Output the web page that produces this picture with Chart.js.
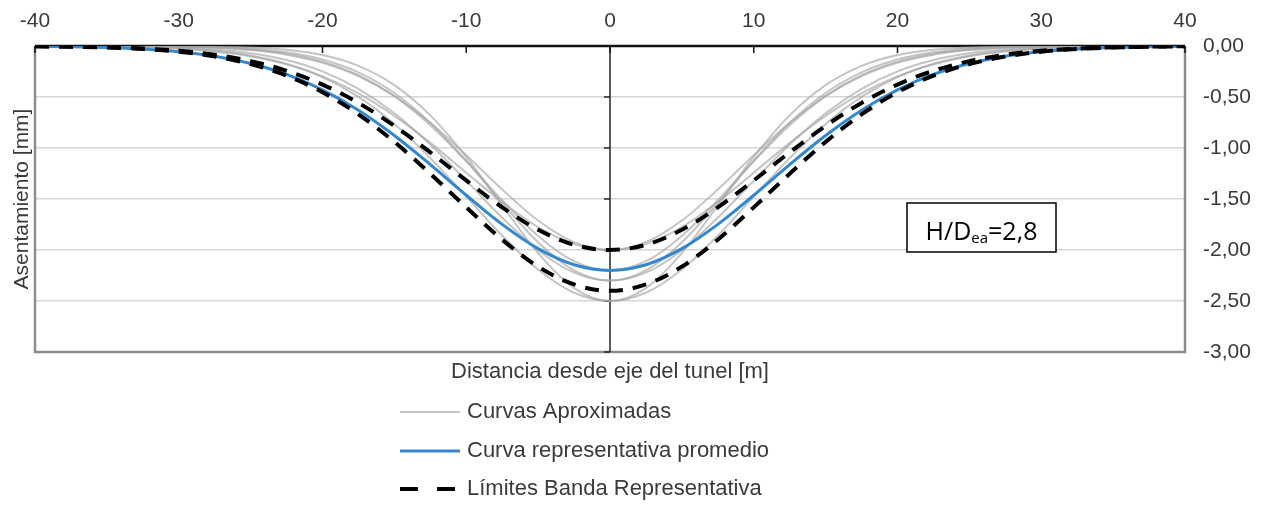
<!DOCTYPE html>
<html lang="es">
<head>
<meta charset="UTF-8">
<title>Asentamiento vs distancia al eje del túnel</title>
<script src="https://cdn.jsdelivr.net/npm/chart.js"></script>
<style>
  html, body { margin:0; padding:0; background:#fff; }
  #asent { display:block; }
</style>
</head>
<body>
<canvas id="asent" width="1269" height="506"></canvas>
<script>
// distancia al eje [m]
const distancias = [-40,-37.5,-35,-32.5,-30,-27.5,-25,-22.5,-20,-17.5,-15,-12.5,-10,-7.5,-5,-2.5,0,2.5,5,7.5,10,12.5,15,17.5,20,22.5,25,27.5,30,32.5,35,37.5,40];

// curvas aproximadas (asentamiento en mm)
const curvaAprox1 = [0,0,0,0,-0.001,-0.005,-0.014,-0.037,-0.089,-0.195,-0.384,-0.680,-1.087,-1.565,-2.030,-2.373,-2.500,-2.373,-2.030,-1.565,-1.087,-0.680,-0.384,-0.195,-0.089,-0.037,-0.014,-0.005,-0.001,0,0,0,0];
const curvaAprox2 = [0,-0.002,-0.004,-0.010,-0.022,-0.047,-0.093,-0.174,-0.305,-0.499,-0.765,-1.099,-1.477,-1.859,-2.192,-2.419,-2.500,-2.419,-2.192,-1.859,-1.477,-1.099,-0.765,-0.499,-0.305,-0.174,-0.093,-0.047,-0.022,-0.010,-0.004,-0.002,0];
const curvaAprox3 = [0,0,0,-0.001,-0.004,-0.010,-0.026,-0.062,-0.132,-0.258,-0.461,-0.753,-1.126,-1.539,-1.924,-2.199,-2.300,-2.199,-1.924,-1.539,-1.126,-0.753,-0.461,-0.258,-0.132,-0.062,-0.026,-0.010,-0.004,-0.001,0,0,0];
const curvaAprox4 = [0,-0.001,-0.003,-0.007,-0.015,-0.034,-0.071,-0.138,-0.249,-0.420,-0.659,-0.966,-1.320,-1.683,-2.002,-2.222,-2.300,-2.222,-2.002,-1.683,-1.320,-0.966,-0.659,-0.420,-0.249,-0.138,-0.071,-0.034,-0.015,-0.007,-0.003,-0.001,0];
const curvaAprox5 = [0,0,-0.001,-0.003,-0.007,-0.018,-0.040,-0.085,-0.164,-0.295,-0.490,-0.753,-1.071,-1.407,-1.711,-1.923,-2.000,-1.923,-1.711,-1.407,-1.071,-0.753,-0.490,-0.295,-0.164,-0.085,-0.040,-0.018,-0.007,-0.003,-0.001,0,0];
const curvaAprox6 = [-0.001,-0.002,-0.006,-0.013,-0.028,-0.055,-0.102,-0.180,-0.298,-0.465,-0.685,-0.950,-1.242,-1.530,-1.776,-1.941,-2.000,-1.941,-1.776,-1.530,-1.242,-0.950,-0.685,-0.465,-0.298,-0.180,-0.102,-0.055,-0.028,-0.013,-0.006,-0.002,-0.001];
const curvaAprox7 = [0,0,-0.001,-0.002,-0.005,-0.014,-0.034,-0.075,-0.153,-0.286,-0.491,-0.776,-1.129,-1.512,-1.862,-2.110,-2.200,-2.110,-1.862,-1.512,-1.129,-0.776,-0.491,-0.286,-0.153,-0.075,-0.034,-0.014,-0.005,-0.002,-0.001,0,0];

// curva promedio y límites de la banda
const curvaPromedio = [-0.003,-0.007,-0.015,-0.030,-0.056,-0.100,-0.172,-0.279,-0.430,-0.630,-0.878,-1.163,-1.463,-1.749,-1.987,-2.145,-2.200,-2.145,-1.987,-1.749,-1.463,-1.163,-0.878,-0.630,-0.430,-0.279,-0.172,-0.100,-0.056,-0.030,-0.015,-0.007,-0.003];
const limiteSuperior = [-0.003,-0.006,-0.012,-0.025,-0.047,-0.086,-0.148,-0.243,-0.378,-0.558,-0.783,-1.043,-1.318,-1.582,-1.802,-1.949,-2.000,-1.949,-1.802,-1.582,-1.318,-1.043,-0.783,-0.558,-0.378,-0.243,-0.148,-0.086,-0.047,-0.025,-0.012,-0.006,-0.003];
const limiteInferior = [-0.003,-0.007,-0.015,-0.029,-0.056,-0.103,-0.178,-0.291,-0.453,-0.670,-0.940,-1.252,-1.582,-1.899,-2.163,-2.338,-2.400,-2.338,-2.163,-1.899,-1.582,-1.252,-0.940,-0.670,-0.453,-0.291,-0.178,-0.103,-0.056,-0.029,-0.015,-0.007,-0.003];

const ticksX = [-40,-30,-20,-10,0,10,20,30,40];
const ticksY = [0,-0.5,-1,-1.5,-2,-2.5,-3];

const curvasAprox = [curvaAprox1, curvaAprox2, curvaAprox3, curvaAprox4, curvaAprox5, curvaAprox6, curvaAprox7];

const FUENTE = '"Liberation Sans", Arial, sans-serif';
const GRIS = 'rgba(165,165,165,0.65)';
const AZUL = '#3387cf';

const pts = arr => distancias.map((x, i) => ({ x, y: arr[i] }));

const datasets = [];
curvasAprox.forEach((c, i) => datasets.push({
  label: 'Curvas Aproximadas', data: pts(c), borderColor: GRIS, borderWidth: 2,
  order: 3, enLeyenda: i === 0
}));
datasets.push({ label: 'Curva representativa promedio', data: pts(curvaPromedio), borderColor: AZUL, borderWidth: 3, order: 2, enLeyenda: true });
datasets.push({ label: 'Límites Banda Representativa', data: pts(limiteSuperior), borderColor: '#000', borderWidth: 4, borderDash: [14, 10], order: 1, enLeyenda: true });
datasets.push({ label: 'Límites Banda Representativa', data: pts(limiteInferior), borderColor: '#000', borderWidth: 4, borderDash: [14, 10], order: 1, enLeyenda: false });

// marco, ejes con cruce en 0, títulos, leyenda y recuadro H/Dea
const extras = {
  id: 'extras',
  beforeDatasetsDraw(chart) {
    const { ctx, chartArea: a, scales: { x, y } } = chart;
    ctx.save();
    // marco gris del área de trazado
    ctx.strokeStyle = '#8c8c8c'; ctx.lineWidth = 2.5;
    ctx.beginPath();
    ctx.moveTo(a.left, a.top); ctx.lineTo(a.left, a.bottom); ctx.lineTo(a.right, a.bottom); ctx.lineTo(a.right, a.top);
    ctx.stroke();
    // eje vertical en x = 0
    const x0 = x.getPixelForValue(0);
    ctx.strokeStyle = '#262626'; ctx.lineWidth = 1.5;
    ctx.beginPath(); ctx.moveTo(x0, a.top); ctx.lineTo(x0, a.bottom); ctx.stroke();
    ticksY.forEach(v => {
      const py = y.getPixelForValue(v);
      ctx.beginPath(); ctx.moveTo(x0 - 6, py); ctx.lineTo(x0, py); ctx.stroke();
    });
    // eje horizontal superior (y = 0)
    ctx.strokeStyle = '#111'; ctx.lineWidth = 2.5;
    ctx.beginPath(); ctx.moveTo(a.left, a.top); ctx.lineTo(a.right, a.top); ctx.stroke();
    ctx.lineWidth = 1.5;
    ticksX.forEach(v => {
      const px = x.getPixelForValue(v);
      ctx.beginPath(); ctx.moveTo(px, a.top); ctx.lineTo(px, a.top + 7); ctx.stroke();
    });
    ctx.restore();
  },
  afterDraw(chart) {
    const { ctx, chartArea: a } = chart;
    ctx.save();
    ctx.fillStyle = '#3a3a3a';
    ctx.font = '22px ' + FUENTE;
    ctx.textAlign = 'center'; ctx.textBaseline = 'middle';
    ctx.fillText('Distancia desde eje del tunel [m]', (a.left + a.right) / 2, 372);
    ctx.save();
    ctx.translate(22, (a.top + a.bottom) / 2);
    ctx.rotate(-Math.PI / 2);
    ctx.font = '21px ' + FUENTE;
    ctx.fillText('Asentamiento [mm]', 0, 0);
    ctx.restore();

    // leyenda
    const filas = [412, 451, 489];
    const items = chart.data.datasets.filter(d => d.enLeyenda);
    ctx.textAlign = 'left';
    items.forEach((d, i) => {
      const yy = filas[i];
      ctx.save();
      ctx.strokeStyle = d.borderColor; ctx.lineWidth = d.borderWidth;
      ctx.setLineDash(d.borderDash ? [18, 19] : []);
      ctx.beginPath(); ctx.moveTo(400, yy); ctx.lineTo(460, yy); ctx.stroke();
      ctx.restore();
      ctx.fillText(d.label, 467, yy);
    });

    // recuadro H/Dea
    const bx = 907, by = 203, bw = 149, bh = 49;
    ctx.fillStyle = '#fff';
    ctx.fillRect(bx, by, bw, bh);
    ctx.strokeStyle = '#000'; ctx.lineWidth = 1.5;
    ctx.strokeRect(bx, by, bw, bh);
    ctx.fillStyle = '#000';
    ctx.textBaseline = 'alphabetic';
    const fG = '25px "Open Sans", sans-serif', fS = '15px "Open Sans", sans-serif';
    ctx.font = fG; const w1 = ctx.measureText('H/D').width, w3 = ctx.measureText('=2,8').width;
    ctx.font = fS; const w2 = ctx.measureText('ea').width;
    let tx = bx + (bw - (w1 + w2 + w3)) / 2;
    const base = 240;
    ctx.font = fG; ctx.fillText('H/D', tx, base); tx += w1;
    ctx.font = fS; ctx.fillText('ea', tx, base + 3); tx += w2;
    ctx.font = fG; ctx.fillText('=2,8', tx, base);
    ctx.restore();
  }
};

new Chart(document.getElementById('asent'), {
  type: 'line',
  data: { datasets },
  options: {
    responsive: false,
    animation: false,
    layout: { padding: { left: 35, top: 0, right: 0, bottom: 154 } },
    elements: { point: { radius: 0 }, line: { cubicInterpolationMode: 'monotone' } },
    plugins: { legend: { display: false }, tooltip: { enabled: false } },
    scales: {
      x: {
        type: 'linear', position: 'top', min: -40, max: 40,
        afterBuildTicks: s => { s.ticks = ticksX.map(v => ({ value: v })); },
        ticks: { autoSkip: false, maxRotation: 0, padding: 12, color: '#3a3a3a', font: { family: FUENTE, size: 21 } },
        grid: { display: false, drawTicks: false },
        border: { display: false },
        afterFit: s => { s.height = 46; }
      },
      y: {
        position: 'right', min: -3, max: 0,
        afterBuildTicks: s => { s.ticks = ticksY.map(v => ({ value: v })); },
        ticks: {
          padding: 18, color: '#3a3a3a', font: { family: FUENTE, size: 21 },
          callback: v => v.toFixed(2).replace('.', ',')
        },
        grid: { color: '#d6d6d6', lineWidth: 1.5, drawTicks: false },
        border: { display: false },
        afterFit: s => { s.width = 84; }
      }
    }
  },
  plugins: [extras]
});
</script>
</body>
</html>
